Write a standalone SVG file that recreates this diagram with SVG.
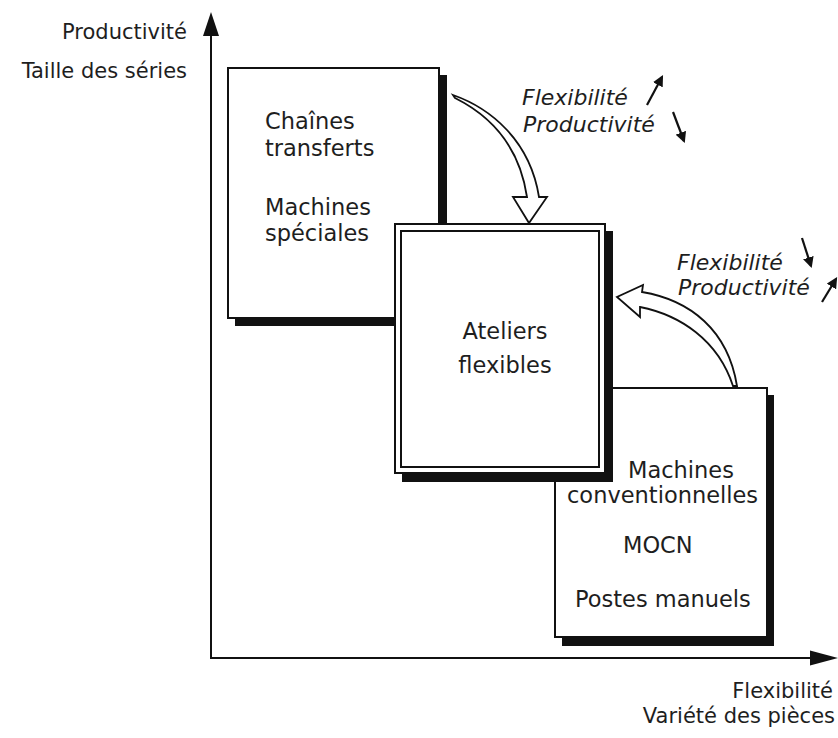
<svg xmlns="http://www.w3.org/2000/svg" width="838" height="738" viewBox="0 0 838 738">
  <style>
    .lbl { font-family: "DejaVu Sans", "Liberation Sans", sans-serif; font-size: 21px; fill: #1e1e1e; }
    .box-text { font-family: "DejaVu Sans", "Liberation Sans", sans-serif; font-size: 22.5px; fill: #1e1e1e; }
    .trend { font-family: "DejaVu Sans", "Liberation Sans", sans-serif; font-size: 22px; font-style: italic; fill: #1e1e1e; }
    .box { fill: #fff; stroke: #111; stroke-width: 2; }
    .shadow { fill: #111; }
    .axis { stroke: #111; stroke-width: 2; fill: none; }
    .big-arrow { fill: #fff; stroke: #111; stroke-width: 1.8; stroke-linejoin: miter; }
    .small-arrow { stroke: #111; stroke-width: 2.2; fill: none; marker-end: url(#tip); }
  </style>
  <defs>
    <marker id="tip" viewBox="0 0 10 10" refX="8" refY="5" markerWidth="5" markerHeight="5" orient="auto" markerUnits="strokeWidth">
      <path d="M0,0 L10,5 L0,10 Z" fill="#111"/>
    </marker>
  </defs>

  <rect width="838" height="738" fill="#fff"/>

  <!-- axes -->
  <g id="axes">
    <line class="axis" x1="211" y1="34" x2="211" y2="659"/>
    <polygon points="211,12 203,36 219,36" fill="#111"/>
    <line class="axis" x1="210" y1="658" x2="814" y2="658"/>
    <polygon points="838,658 810,650.5 810,665.5" fill="#111"/>
    <text class="lbl" x="187" y="39" text-anchor="end">Productivité</text>
    <text class="lbl" x="187" y="78" text-anchor="end">Taille des séries</text>
    <text class="lbl" x="833" y="698" text-anchor="end">Flexibilité</text>
    <text class="lbl" x="835" y="723" text-anchor="end">Variété des pièces</text>
  </g>

  <!-- high volume, low variety -->
  <g id="chaines-transferts">
    <rect class="shadow" x="235" y="75" width="212" height="251"/>
    <rect class="box" x="228" y="68" width="211" height="250"/>
    <text class="box-text" x="265" y="129">Chaînes</text>
    <text class="box-text" x="265" y="156">transferts</text>
    <text class="box-text" x="265" y="215">Machines</text>
    <text class="box-text" x="265" y="241">spéciales</text>
  </g>

  <!-- low volume, high variety -->
  <g id="machines-conventionnelles">
    <rect class="shadow" x="562" y="395" width="212" height="251"/>
    <rect class="box" x="555" y="388" width="212" height="249"/>
    <text class="box-text" x="628" y="478">Machines</text>
    <text class="box-text" x="567" y="503">conventionnelles</text>
    <text class="box-text" x="623" y="553">MOCN</text>
    <text class="box-text" x="575" y="607">Postes manuels</text>
  </g>

  <!-- flexible workshops, double frame -->
  <g id="ateliers-flexibles">
    <rect class="shadow" x="402" y="231" width="211" height="251"/>
    <rect class="box" x="395" y="224" width="210" height="249"/>
    <rect class="box" x="401" y="231" width="198" height="236"/>
    <text class="box-text" x="505" y="339" text-anchor="middle">Ateliers</text>
    <text class="box-text" x="505" y="373" text-anchor="middle">flexibles</text>
  </g>

  <!-- transition arrows -->
  <g id="connectors">
    <path class="big-arrow" d="M453,95 C490,108 530,140 539,197 L547,197 L529,223 L513,197 L527,197 C520,150 495,118 455,98 Z"/>
    <path class="big-arrow" d="M737,386 C728,330 690,300 642,292 L643,285 L617,297 L640,317 L640,307 C680,315 718,340 733,386 Z"/>

    <text class="trend" x="522" y="105">Flexibilité</text>
    <text class="trend" x="523" y="132">Productivité</text>
    <line class="small-arrow" x1="647" y1="105" x2="662" y2="77"/>
    <line class="small-arrow" x1="673" y1="112" x2="684" y2="141"/>

    <text class="trend" x="677" y="270">Flexibilité</text>
    <text class="trend" x="678" y="295">Productivité</text>
    <line class="small-arrow" x1="802" y1="238" x2="811" y2="266"/>
    <line class="small-arrow" x1="822" y1="302" x2="836" y2="279"/>
  </g>
</svg>
